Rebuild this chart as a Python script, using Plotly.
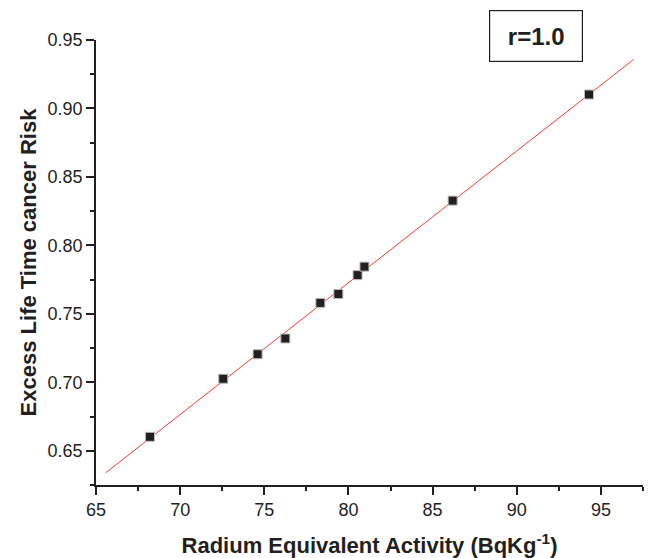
import numpy as np
import plotly.graph_objects as go

# Data
ra_eq = [68.21, 72.56, 74.6, 76.25, 78.33, 79.40, 80.54, 80.95, 86.19, 94.29]
elcr = [0.6602, 0.7026, 0.7205, 0.7320, 0.7580, 0.7645, 0.7783, 0.7845, 0.8327, 0.9102]
fit_x = [65.58, 96.95]

x_ticks = [65, 70, 75, 80, 85, 90, 95]
y_ticks = [0.65, 0.70, 0.75, 0.80, 0.85, 0.90, 0.95]

slope, intercept = np.polyfit(ra_eq, elcr, 1)
fit_y = [slope * v + intercept for v in fit_x]

fig = go.Figure()
fig.add_trace(go.Scatter(x=fit_x, y=fit_y, mode="lines",
                         line=dict(color="#ee3b2f", width=1), showlegend=False))
fig.add_trace(go.Scatter(x=ra_eq, y=elcr, mode="markers",
                         marker=dict(symbol="square", size=9, color="#231f20",
                                     line=dict(color="#bbbbbb", width=1)),
                         showlegend=False))

FONT = "Liberation Sans, Arial, sans-serif"
axis_font = dict(family=FONT, size=18, color="#231f20")
title_font = dict(family=FONT, size=22, color="#231f20")

fig.update_layout(
    width=651, height=558,
    margin=dict(l=96, r=8, t=40, b=73, autoexpand=False),
    paper_bgcolor="white", plot_bgcolor="white",
    xaxis=dict(range=[65, 97.5], tickvals=x_ticks, ticks="outside", ticklen=8,
               tickwidth=1.5, tickcolor="#231f20", showline=True, linecolor="#231f20",
               linewidth=1.5, showgrid=False, zeroline=False, tickfont=axis_font,
               automargin=False,
               minor=dict(ticks="outside", ticklen=4, tickwidth=1.5, dtick=2.5,
                          tick0=65, tickcolor="#231f20", showgrid=False),
               title=dict(text="<b>Radium Equivalent Activity (BqKg<sup>-1</sup>)</b>",
                          font=title_font, standoff=21)),
    yaxis=dict(range=[0.625, 0.95], tickvals=y_ticks, tickformat=".2f", ticks="outside",
               ticklen=8, tickwidth=1.5, tickcolor="#231f20", showline=True,
               linecolor="#231f20", linewidth=1.5, showgrid=False, zeroline=False,
               tickfont=axis_font, automargin=False,
               minor=dict(ticks="outside", ticklen=4, tickwidth=1.5, dtick=0.025,
                          tick0=0.625, tickcolor="#231f20", showgrid=False),
               title=dict(text="<b>Excess Life Time cancer Risk</b>",
                          font=title_font, standoff=5)),
    annotations=[dict(text="<b>r=1.0</b>", xref="paper", yref="paper",
                      x=(535.5 - 96) / 547, y=(485 - 36) / 445, xanchor="center", yanchor="middle",
                      showarrow=False, font=dict(family=FONT, size=24, color="#231f20"),
                      bordercolor="#231f20", borderwidth=1.2, borderpad=10, bgcolor="white",
                      width=72, height=30)],
)

fig.write_html("out.html")
